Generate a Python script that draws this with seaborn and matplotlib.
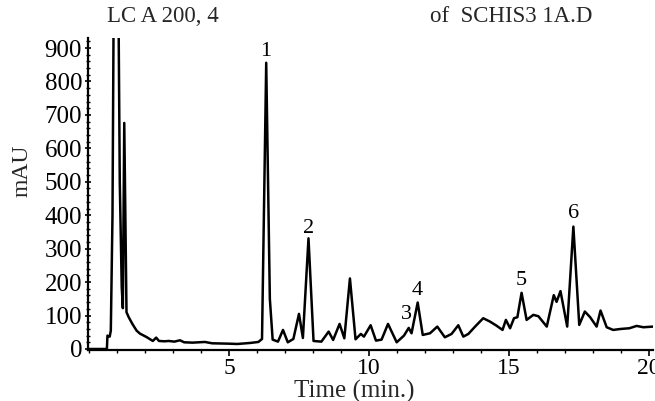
import numpy as np
import pandas as pd
import matplotlib
matplotlib.use("Agg")
import matplotlib.pyplot as plt
from matplotlib.ticker import MultipleLocator
import seaborn as sns

# chromatogram trace (time in min, absorbance in mAU)
time_min = [0.00, 0.64, 0.66, 0.70, 0.74, 0.78, 0.84, 0.90, 0.96, 1.03, 1.10, 1.17,
            1.21, 1.26, 1.34, 1.42, 1.55, 1.70, 1.82, 2.05, 2.28, 2.40, 2.50, 2.70,
            2.85, 3.05, 3.25, 3.40, 3.70, 4.14, 4.40, 4.96, 5.30, 5.75, 6.05, 6.18,
            6.33, 6.46, 6.56, 6.75, 6.93, 7.10, 7.30, 7.50, 7.64, 7.84, 8.02, 8.30,
            8.56, 8.72, 8.95, 9.12, 9.32, 9.52, 9.71, 9.82, 10.06, 10.25, 10.45, 10.68,
            10.99, 11.25, 11.42, 11.52, 11.74, 11.92, 12.18, 12.44, 12.71, 12.95, 13.19,
            13.37, 13.55, 13.79, 14.08, 14.32, 14.55, 14.77, 14.89, 15.04, 15.18, 15.30,
            15.45, 15.63, 15.87, 16.05, 16.35, 16.60, 16.70, 16.84, 17.08, 17.30, 17.51,
            17.71, 17.90, 18.13, 18.27, 18.49, 18.72, 19.00, 19.30, 19.56, 19.80, 20.15]
mau = [0, 0, 40, 38, 37, 55, 400, 1300, 1500, 1300, 500, 185,
       122, 676, 110, 95, 75, 55, 46, 36, 24, 34, 24, 23,
       24, 22, 26, 20, 19, 21, 17, 16, 15, 18, 21, 30,
       856, 150, 28, 22, 57, 20, 30, 105, 33, 331, 24, 22,
       52, 27, 75, 32, 211, 29, 45, 37, 71, 25, 28, 75,
       20, 40, 63, 47, 139, 42, 47, 67, 35, 45, 71,
       37, 45, 67, 92, 82, 70, 57, 87, 62, 92, 95,
       168, 87, 102, 98, 67, 161, 141, 173, 67, 366, 72,
       112, 95, 67, 115, 65, 57, 60, 62, 69, 65, 67]

# numbered peaks
peak_labels = ["1", "2", "3", "4", "5", "6"]
peak_time = [6.32, 7.85, 11.33, 11.73, 15.45, 17.32]
peak_label_y = [889, 361, 102, 176, 206, 406]

df = pd.DataFrame({"time": time_min, "mAU": mau})

sns.set_style("ticks")
plt.rcParams["font.family"] = ["Liberation Serif", "DejaVu Serif"]

fig = plt.figure(figsize=(6.55, 4.01), dpi=100)
ax = fig.add_axes([0.1337, 0.1272, 0.8635, 0.778])

sns.lineplot(data=df, x="time", y="mAU", ax=ax, color="black", linewidth=1.8,
             estimator=None, sort=False)

for lab, t, y in zip(peak_labels, peak_time, peak_label_y):
    ax.text(t, y, lab, ha="center", va="center", fontsize=16, color="black")

ax.set_xlim(-0.05, 20.15)
ax.set_ylim(-3, 930)
ax.set_xticks([5, 10, 15, 20])
ax.xaxis.set_minor_locator(MultipleLocator(1))
ax.set_yticks(np.arange(0, 1000, 100))
ax.yaxis.set_minor_locator(MultipleLocator(20))
ax.tick_params(axis="both", which="major", labelsize=18, length=4, width=1.2,
               colors="black", pad=2)
ax.tick_params(axis="x", which="major", labelsize=17, pad=2)
ax.tick_params(axis="both", which="minor", length=2.5, width=1.0, colors="black")
ax.tick_params(axis="y", which="both", direction="inout")
for side in ["top", "right"]:
    ax.spines[side].set_visible(False)
for side in ["left", "bottom"]:
    ax.spines[side].set_linewidth(1.6)
    ax.spines[side].set_color("black")

ax.set_xlabel("Time (min.)", fontsize=18, labelpad=0)
ax.xaxis.set_label_coords(0.4717, -0.097, transform=ax.transAxes)
ax.xaxis.label.set_va("top")
ax.set_ylabel("mAU", fontsize=17)
ax.yaxis.set_label_coords(-0.098, 0.575)

fig.text(0.163, 0.958, "LC A 200, 4", fontsize=16.5, va="center", ha="left")
fig.text(0.656, 0.958, "of  SCHIS3 1A.D", fontsize=16.5, va="center", ha="left")

fig.savefig("out.png", dpi=100)
